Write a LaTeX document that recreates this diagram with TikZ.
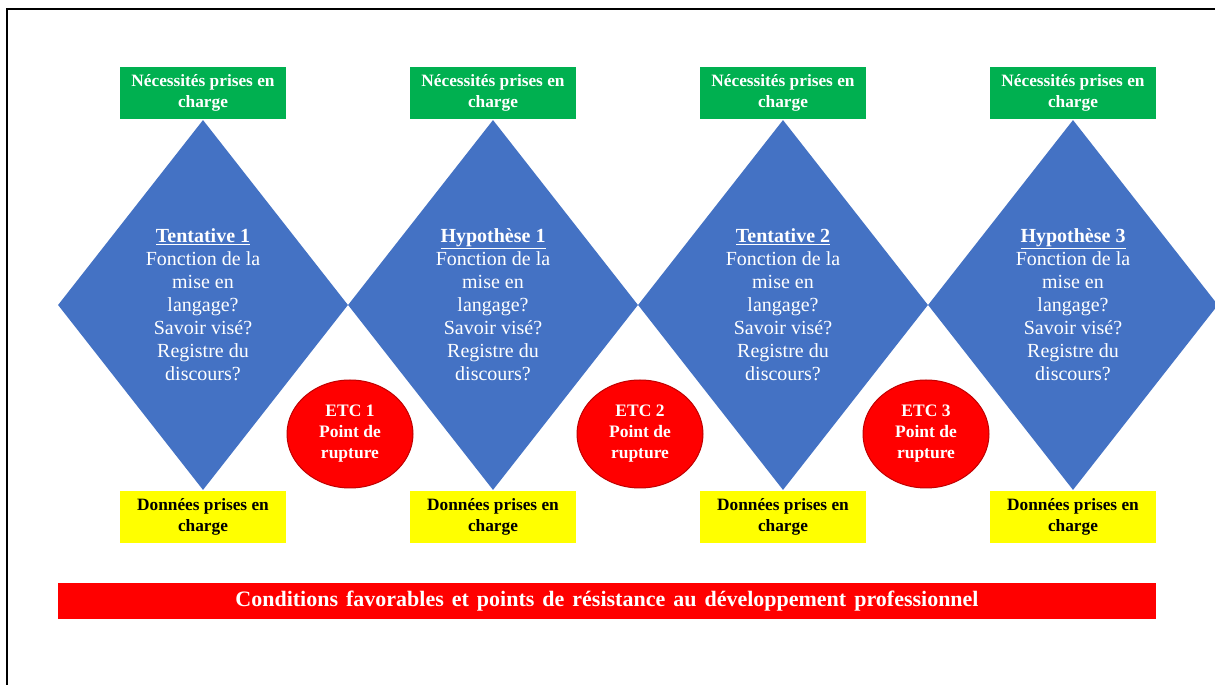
\documentclass[tikz,border=0pt]{standalone}
\usepackage{fontspec}
\setmainfont{Liberation Serif}
\usetikzlibrary{shapes.geometric}
\definecolor{dblue}{HTML}{4472C4}
\definecolor{dgreen}{HTML}{00B050}
\definecolor{dyellow}{HTML}{FFFF00}
\definecolor{dred}{HTML}{FF0000}
\definecolor{dredline}{HTML}{C00000}
\newcommand{\barfont}{\fontsize{22}{24}\selectfont\bfseries\spaceskip=8pt\relax}
\tikzset{
  x=1pt, y=1pt,
  dia/.style={shape=diamond, fill=dblue, draw=none, minimum width=290pt, minimum height=370pt, inner sep=0pt},
  diatext/.style={text=white, align=center, font=\fontsize{20}{23}\selectfont, inner sep=0pt},
  greenbox/.style={fill=dgreen, text=white, minimum width=166pt, minimum height=52pt, inner sep=0pt, align=center, font=\fontsize{17.3}{21}\selectfont\bfseries},
  yellowbox/.style={fill=dyellow, text=black, minimum width=166pt, minimum height=52pt, inner sep=0pt, align=center, font=\fontsize{17.3}{21}\selectfont\bfseries},
  etc/.style={ellipse, fill=dred, draw=dredline, line width=1pt, minimum width=126pt, minimum height=108pt, inner sep=0pt, text=white, align=center, font=\fontsize{17.5}{21}\selectfont\bfseries},
  bar/.style={fill=dred, text=white, minimum width=1098pt, minimum height=36pt, inner sep=0pt, font=\barfont},
  frame/.style={draw=black, line width=2pt}
}
\newcommand{\diabody}[1]{\underline{\textbf{#1}}\\Fonction de la\\mise en\\langage?\\Savoir visé?\\Registre du\\discours?}
\begin{document}
\begin{tikzpicture}
\useasboundingbox (0,0) rectangle (1215,685);
\fill[white] (0,0) rectangle (1215,685);
% frame (top and left edges visible)
\coordinate (fa) at (7,-5);
\coordinate (fb) at (7,676);
\coordinate (fc) at (1225,676);
\draw[frame] (fa) -- (fb) -- (fc);
% diamonds
\foreach \i/\x in {1/203,2/493,3/783,4/1073}{
  \node[dia] (d\i) at (\x,380) {};
  \node[greenbox] (n\i) at (\x,592) {Nécessités prises en\\charge};
  \node[yellowbox] (y\i) at (\x,168) {Données prises en\\charge};
}
\node[diatext] (t1) at (d1.center) {\diabody{Tentative 1}};
\node[diatext] (t2) at (d2.center) {\diabody{Hypothèse 1}};
\node[diatext] (t3) at (d3.center) {\diabody{Tentative 2}};
\node[diatext] (t4) at (d4.center) {\diabody{Hypothèse 3}};
% ETC ellipses
\node[etc] (e1) at (350,251) {ETC 1\\Point de\\rupture};
\node[etc] (e2) at (640,251) {ETC 2\\Point de\\rupture};
\node[etc] (e3) at (926,251) {ETC 3\\Point de\\rupture};
% bottom bar
\node[bar] (b) at (607,84) {Conditions favorables et points de résistance au développement professionnel};
\end{tikzpicture}
\end{document}
